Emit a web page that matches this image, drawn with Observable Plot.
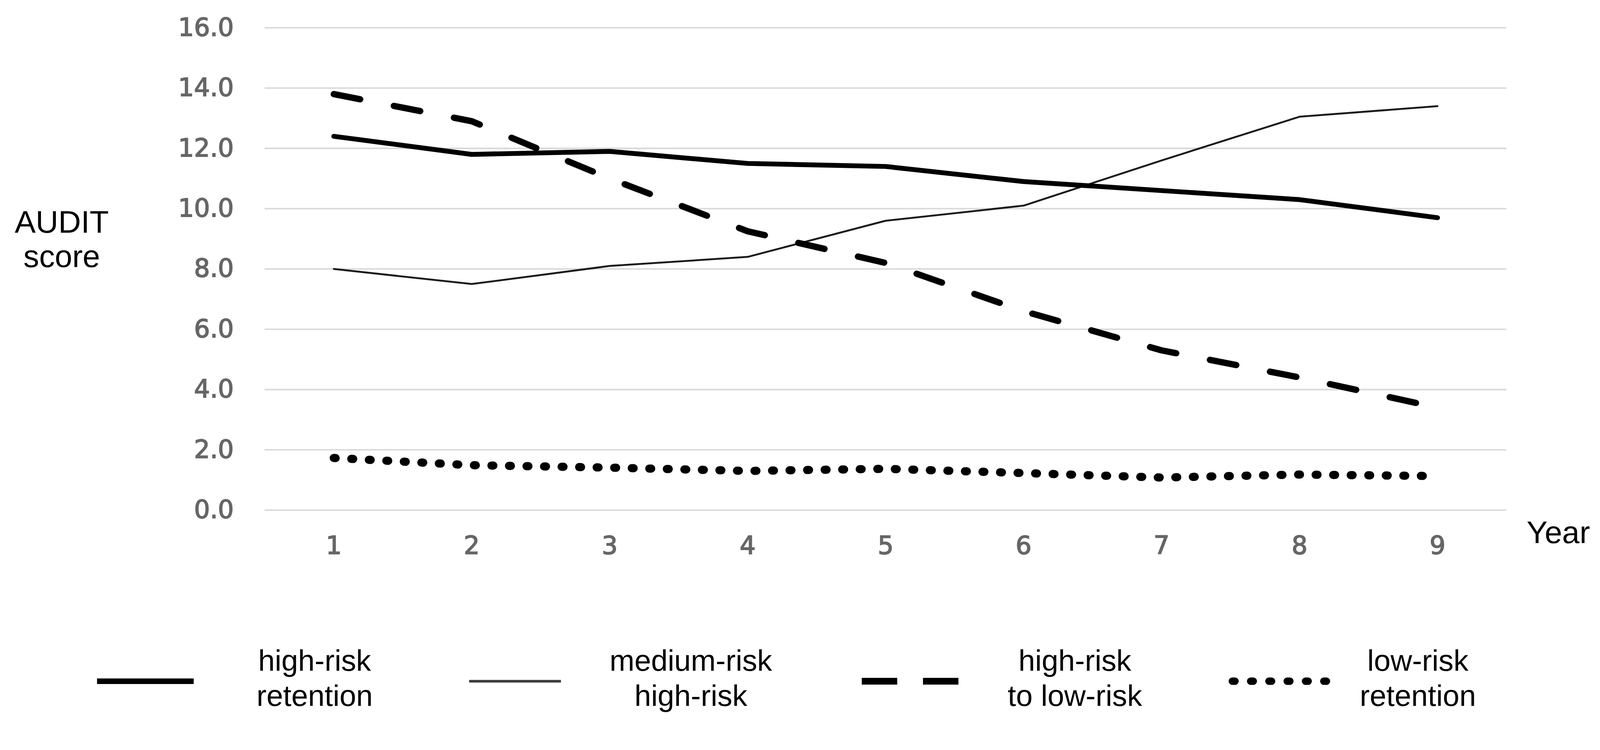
<!DOCTYPE html>
<html>
<head>
<meta charset="utf-8">
<script src="https://cdn.jsdelivr.net/npm/d3@7"></script>
<script src="https://cdn.jsdelivr.net/npm/@observablehq/plot@0.6"></script>
<style>
  html, body { margin: 0; padding: 0; background: #ffffff; overflow: hidden; }
  #chart { width: 100%; }
  #chart svg { display: block; width: 100%; height: auto; max-width: 100%; }
</style>
</head>
<body>
<div id="chart"></div>
<script>
// ---- data ----
const years = [1, 2, 3, 4, 5, 6, 7, 8, 9];
const highRiskRetention = [12.4, 11.8, 11.9, 11.5, 11.4, 10.9, 10.6, 10.3, 9.7];
const mediumRiskHighRisk = [8.0, 7.5, 8.1, 8.4, 9.6, 10.1, 11.6, 13.05, 13.4];
const highRiskToLowRisk = [13.8, 12.9, 11.0, 9.25, 8.2, 6.6, 5.3, 4.4, 3.4];
const lowRiskRetention = [1.73, 1.49, 1.41, 1.30, 1.37, 1.23, 1.08, 1.18, 1.13];
const yTicks = [0, 2, 4, 6, 8, 10, 12, 14, 16];
const seriesNames = [["high-risk", "retention"], ["medium-risk", "high-risk"], ["high-risk", "to low-risk"], ["low-risk", "retention"]];
const yLabel = "AUDIT\nscore";
const xLabel = "Year";

const table = (arr) => years.map((yr, i) => ({year: yr, value: arr[i]}));

const sans = "Liberation Sans, Arial, Helvetica, sans-serif";
const tickFont = "DejaVu Sans, Verdana, sans-serif";
const tickColor = "#666666";

const chart = Plot.plot({
  width: 4287,
  height: 1530,
  marginLeft: 709,
  marginRight: 251,
  marginTop: 74,
  marginBottom: 163,
  style: {background: "#ffffff", fontFamily: sans},
  x: {domain: [0.5, 9.5]},
  y: {domain: [0, 16]},
  marks: [
    Plot.gridY(yTicks, {stroke: "#d9d9d9", strokeOpacity: 1, strokeWidth: 4}),
    Plot.axisY(yTicks, {tickSize: 0, tickPadding: 83, tickFormat: d3.format(".1f"), fontSize: 67, fontFamily: tickFont, color: tickColor, label: null}),
    Plot.axisX(years, {tickSize: 0, tickPadding: 70, tickFormat: d => String(d), fontSize: 67, fontFamily: tickFont, color: tickColor, label: null}),
    Plot.line(table(lowRiskRetention), {x: "year", y: "value", stroke: "#000", strokeWidth: 22, strokeLinecap: "round", strokeDasharray: "5 42"}),
    Plot.line(table(mediumRiskHighRisk), {x: "year", y: "value", stroke: "#1a1a1a", strokeWidth: 5, strokeLinejoin: "round"}),
    Plot.line(table(highRiskRetention), {x: "year", y: "value", stroke: "#000", strokeWidth: 13, strokeLinejoin: "round", strokeLinecap: "round"}),
    Plot.line(table(highRiskToLowRisk), {x: "year", y: "value", stroke: "#000", strokeWidth: 17, strokeLinecap: "round", strokeLinejoin: "round", strokeDasharray: "72 92"}),
    Plot.text([yLabel], {text: d => d, frameAnchor: "left", dx: -544, dy: -81, fontSize: 84, fontFamily: sans, textAnchor: "middle", lineHeight: 1.1, fill: "#000"}),
    Plot.text([xLabel], {text: d => d, frameAnchor: "bottom-right", dx: 54, dy: 88, fontSize: 84, fontFamily: sans, textAnchor: "start", fill: "#000"})
  ]
});
document.getElementById("chart").appendChild(chart);

// give the tick labels a slightly heavier look, as in the original
d3.select(chart).selectAll("[aria-label='y-axis tick label'] text, [aria-label='x-axis tick label'] text")
  .attr("stroke", tickColor).attr("stroke-width", 2.2).attr("paint-order", "stroke");

// ---- legend (below the plot) ----
const legend = d3.select("#chart").append("svg")
  .attr("width", 4287).attr("height", 391)
  .attr("viewBox", "0 0 4287 391")
  .style("background", "#ffffff");

const swatchY = 296;
const items = [
  {x1: 260, x2: 519, w: 15, color: "#000", dash: null, cap: "butt", tx: 843},
  {x1: 1257, x2: 1503, w: 7, color: "#3c3c3c", dash: null, cap: "butt", tx: 1851},
  {x1: 2309, x2: 2568, w: 18, color: "#000", dash: "95 69", cap: "butt", tx: 2880},
  {x1: 3302, x2: 3554, w: 20, color: "#000", dash: "7 42", cap: "round", tx: 3799}
];
items.forEach((it, i) => {
  legend.append("line")
    .attr("x1", it.x1).attr("x2", it.x2).attr("y1", swatchY).attr("y2", swatchY)
    .attr("stroke", it.color).attr("stroke-width", it.w)
    .attr("stroke-linecap", it.cap)
    .attr("stroke-dasharray", it.dash);
  const t = legend.append("text")
    .attr("x", it.tx).attr("text-anchor", "middle")
    .attr("font-family", sans).attr("font-size", 80).attr("fill", "#000");
  t.append("tspan").attr("x", it.tx).attr("y", 268).text(seriesNames[i][0]);
  t.append("tspan").attr("x", it.tx).attr("y", 362).text(seriesNames[i][1]);
});
</script>
</body>
</html>
